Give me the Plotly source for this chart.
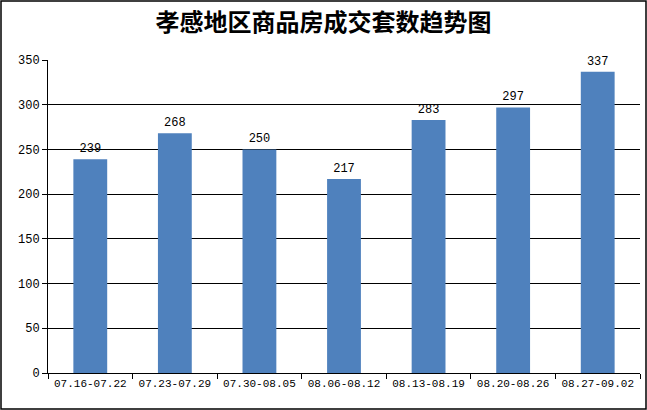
import plotly.graph_objects as go

categories = ["07.16-07.22", "07.23-07.29", "07.30-08.05", "08.06-08.12",
              "08.13-08.19", "08.20-08.26", "08.27-09.02"]
values = [239, 268, 250, 217, 283, 297, 337]
y_ticks = [0, 50, 100, 150, 200, 250, 300, 350]
title_text = "孝感地区商品房成交套数趋势图"

W, H = 647, 410
ml, mr, mt, mb = 48, 7, 60, 37
pw, ph = W - ml - mr, H - mt - mb

fig = go.Figure(go.Bar(
    x=categories, y=values,
    marker=dict(color="#4F81BD", line=dict(width=0)),
    text=[str(v) for v in values], textposition="outside",
    textfont=dict(family="Liberation Mono", size=12, color="black"),
    cliponaxis=False,
))

fig.update_layout(
    width=W, height=H,
    margin=dict(l=ml, r=mr, t=mt, b=mb, autoexpand=False),
    paper_bgcolor="white", plot_bgcolor="white",
    bargap=0.6,
    showlegend=False,
    title=dict(text="<b>" + title_text + "</b>", x=0.5, xanchor="center",
               y=1 - 23 / H, yanchor="middle",
               font=dict(family="Noto Sans CJK SC", size=24, color="black")),
    xaxis=dict(
        type="category", tickson="boundaries", ticks="outside", ticklen=5,
        tickcolor="black", showline=True, linecolor="black", linewidth=1,
        showgrid=False, tickangle=0, automargin=False,
        tickfont=dict(family="Liberation Mono", size=11, color="black"),
    ),
    yaxis=dict(
        range=[0, 350], tickvals=y_ticks, ticks="outside", ticklen=5,
        tickcolor="black", showline=True, linecolor="black", linewidth=1,
        showgrid=True, gridcolor="black", gridwidth=1, zeroline=False,
        automargin=False,
        tickfont=dict(family="Liberation Mono", size=12, color="black"),
    ),
    shapes=[dict(type="rect", xref="paper", yref="paper",
                 x0=-(ml - 1) / pw, x1=1 + (mr - 1) / pw,
                 y0=-(mb - 1) / ph, y1=1 + (mt - 1) / ph,
                 line=dict(color="black", width=1.5))],
)

fig.write_html("out.html", config={"displayModeBar": False})

with open("out.html", "r", encoding="utf-8") as f:
    html = f.read()
html = html.replace("<head>", "<head><style>html,body{margin:0;padding:0;overflow:hidden}</style>", 1)
with open("out.html", "w", encoding="utf-8") as f:
    f.write(html)
